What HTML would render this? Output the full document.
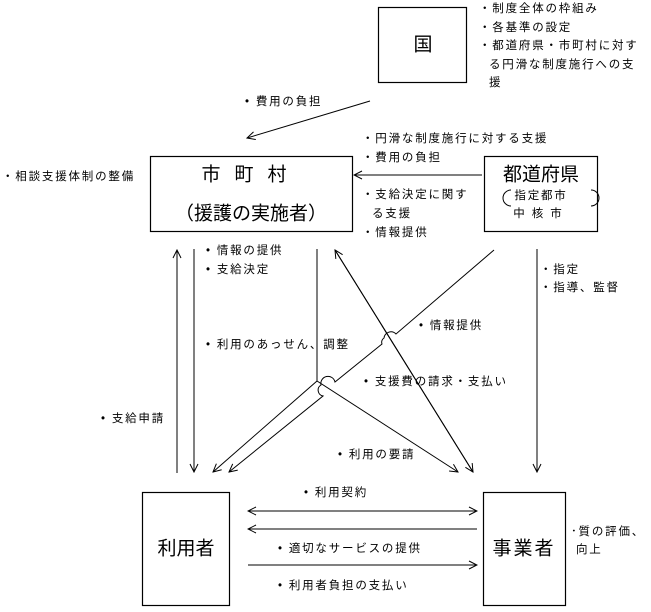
<!DOCTYPE html>
<html><head><meta charset="utf-8"><style>
html,body{margin:0;padding:0;background:#fff;}
svg{display:block;}
text{font-family:"Liberation Sans","Noto Sans CJK JP",sans-serif;fill:#000;dominant-baseline:central;}
.s{font-size:11.5px;letter-spacing:1.8px;}
.b{font-size:19px;}
</style></head><body>
<svg width="651" height="612" viewBox="0 0 651 612" xmlns="http://www.w3.org/2000/svg">
<defs>
<marker id="a" markerWidth="10" markerHeight="10" refX="9" refY="5" orient="auto" markerUnits="userSpaceOnUse">
<polyline points="1,1 9,5 1,9" fill="none" stroke="#000" stroke-width="1"/>
</marker>
</defs>
<g fill="none" stroke="#000" stroke-width="1.2">
<rect x="378.5" y="7.5" width="88" height="75"/>
<rect x="150.5" y="156.5" width="202" height="75"/>
<rect x="484.5" y="156.5" width="113" height="75"/>
<rect x="142.5" y="492.5" width="87" height="113"/>
<rect x="483.5" y="492.5" width="82" height="113"/>
</g>
<g fill="none" stroke="#000" stroke-width="1">
<line x1="370" y1="101" x2="247" y2="138" marker-end="url(#a)"/>
<line x1="482" y1="175" x2="354" y2="175" marker-end="url(#a)"/>
<line x1="177" y1="473" x2="177" y2="250" marker-end="url(#a)"/>
<line x1="194" y1="249" x2="194" y2="472" marker-end="url(#a)"/>
<line x1="317" y1="249" x2="317" y2="381"/>
<line x1="317" y1="381" x2="213" y2="472" marker-end="url(#a)"/>
<line x1="317" y1="381" x2="458" y2="472" marker-end="url(#a)"/>
<line x1="473" y1="472" x2="335" y2="250" marker-end="url(#a)"/>
<line x1="335" y1="250" x2="473" y2="472" marker-end="url(#a)"/>
<path d="M494,250 L396,334 A7,7 0 0 0 384,338 A5,5 0 0 0 382,344 L335,382 A7,7 0 0 0 321,385 A6,6 0 0 0 323,396 L229,472" marker-end="url(#a)"/>
<line x1="537" y1="249" x2="537" y2="472" marker-end="url(#a)"/>
<line x1="477" y1="511" x2="248" y2="511" marker-end="url(#a)"/>
<line x1="248" y1="511" x2="477" y2="511" marker-end="url(#a)"/>
<line x1="477" y1="529" x2="248" y2="529" marker-end="url(#a)"/>
<line x1="248" y1="565" x2="477" y2="565" marker-end="url(#a)"/>
<path d="M511,190 A8,8 0 0 0 511,206 M591,190 A8,8 0 0 1 591,206"/>
</g>
<text class="b" x="423" y="45" text-anchor="middle">国</text>
<text class="s" x="479" y="9">・制度全体の枠組み</text>
<text class="s" x="479" y="28">・各基準の設定</text>
<text class="s" x="479" y="46">・都道府県・市町村に対す</text>
<text class="s" x="489" y="65">る円滑な制度施行への支</text>
<text class="s" x="489" y="83">援</text>
<text class="s" x="245" y="102">• 費用の負担</text>
<text class="s" x="362" y="139">・円滑な制度施行に対する支援</text>
<text class="s" x="362" y="158">・費用の負担</text>
<text class="s" x="362" y="195">・支給決定に関す</text>
<text class="s" x="372" y="214">る支援</text>
<text class="s" x="362" y="233">・情報提供</text>
<text class="s" x="2" y="177">・相談支援体制の整備</text>
<text class="b" x="251" y="175" text-anchor="middle" style="letter-spacing:14px">市町村</text>
<text class="b" x="251" y="214" text-anchor="middle">（援護の実施者）</text>
<text class="b" x="541" y="175" text-anchor="middle">都道府県</text>
<text class="s" x="541" y="196" text-anchor="middle">指定都市</text>
<text class="s" x="541" y="214" text-anchor="middle" style="letter-spacing:7px">中核市</text>
<text class="s" x="206" y="251">• 情報の提供</text>
<text class="s" x="206" y="270">• 支給決定</text>
<text class="s" x="206" y="345">• 利用のあっせん、調整</text>
<text class="s" x="101" y="419">• 支給申請</text>
<text class="s" x="419" y="326">• 情報提供</text>
<text class="s" x="364" y="382">• 支援費の請求・支払い</text>
<text class="s" x="338" y="455">• 利用の要請</text>
<text class="s" x="540" y="270">・指定</text>
<text class="s" x="540" y="288">・指導、監督</text>
<text class="s" x="304" y="493">• 利用契約</text>
<text class="s" x="278" y="549">• 適切なサービスの提供</text>
<text class="s" x="278" y="586">• 利用者負担の支払い</text>
<text class="s" x="571" y="532">･質の評価、</text>
<text class="s" x="576" y="550">向上</text>
<text class="b" x="186" y="549" text-anchor="middle">利用者</text>
<text class="b" x="524" y="549" text-anchor="middle" style="letter-spacing:2px">事業者</text>
</svg>
</body></html>
